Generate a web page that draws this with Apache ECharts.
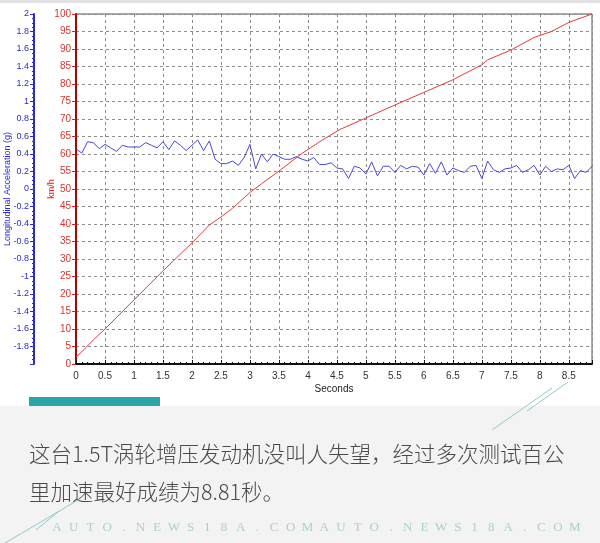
<!DOCTYPE html>
<html>
<head>
<meta charset="utf-8">
<script src="https://cdn.jsdelivr.net/npm/echarts@6/dist/echarts.min.js"></script>
<style>
html,body{margin:0;padding:0;background:#fff;}
#chart{width:600px;height:543px;}
</style>
</head>
<body>
<div id="chart"></div>
<script>
// ---- data ----
const accelTime = [0,0.1,0.2,0.3,0.4,0.5,0.6,0.7,0.8,0.9,1,1.1,1.2,1.3,1.4,1.5,1.6,1.7,1.8,1.9,2,2.1,2.2,2.3,2.4,2.5,2.6,2.7,2.8,2.9,3,3.1,3.2,3.3,3.4,3.5,3.6,3.7,3.8,3.9,4,4.1,4.2,4.3,4.4,4.5,4.6,4.7,4.8,4.9,5,5.1,5.2,5.3,5.4,5.5,5.6,5.7,5.8,5.9,6,6.1,6.2,6.3,6.4,6.5,6.6,6.7,6.8,6.9,7,7.1,7.2,7.3,7.4,7.5,7.6,7.7,7.8,7.9,8,8.1,8.2,8.3,8.4,8.5,8.6,8.7,8.8,8.9];
const accelG = [0.46,0.41,0.54,0.53,0.46,0.51,0.47,0.43,0.50,0.48,0.48,0.48,0.53,0.50,0.47,0.54,0.45,0.55,0.50,0.44,0.50,0.56,0.44,0.55,0.34,0.29,0.29,0.32,0.27,0.36,0.51,0.23,0.40,0.31,0.40,0.37,0.34,0.34,0.37,0.34,0.32,0.36,0.28,0.28,0.30,0.24,0.23,0.12,0.26,0.24,0.17,0.31,0.15,0.26,0.26,0.19,0.27,0.23,0.26,0.25,0.16,0.29,0.18,0.31,0.16,0.24,0.21,0.19,0.26,0.27,0.12,0.32,0.22,0.19,0.23,0.24,0.27,0.19,0.22,0.27,0.16,0.26,0.20,0.23,0.22,0.27,0.12,0.21,0.19,0.26];
const speedTime = [0,0.1,0.3,0.5,1.0,1.5,2.0,2.3,2.5,2.7,2.9,3.0,3.2,3.5,3.9,4.25,4.55,5.0,5.5,6.0,6.5,7.0,7.1,7.5,7.9,8.2,8.5,8.9];
const speedKmh = [2,3.5,6.9,10,18.3,26.6,34.6,39.7,42,44.5,47.5,49,51.5,55.1,60.2,64,67,70.3,74,77.6,81.2,85.5,86.9,89.7,93.3,95,97.6,100];
const xAxisName = 'Seconds';
const gAxisName = 'Longitudinal Acceleration (g)';
const speedAxisName = 'km/h';
const captionLines = ['这台1.5T涡轮增压发动机没叫人失望，经过多次测试百公', '里加速最好成绩为8.81秒。'];
const watermark = 'AUTO.NEWS18A.COMAUTO.NEWS18A.COM';

// ---- chart ----
const chart = echarts.init(document.getElementById('chart'), null, {renderer:'canvas'});
const blue = '#2a2ad6', red = '#d42020';
const sans = '"Liberation Sans", sans-serif';
const gridLine = {show:true, lineStyle:{type:[3,3], color:'#8c8c8c', width:1}};
const graphics = [
  {type:'rect', z:-10, shape:{x:0,y:0,width:600,height:3}, style:{fill:'#e2e2e2'}},
  {type:'rect', z:-10, shape:{x:0,y:406,width:600,height:137}, style:{fill:'#f3f3f3'}},
  {type:'rect', shape:{x:29,y:397,width:131,height:9}, style:{fill:'#2ba6a8'}},
  {type:'line', shape:{x1:492,y1:430,x2:552,y2:388}, style:{stroke:'#8fcaca', lineWidth:1}},
  {type:'line', shape:{x1:527,y1:411,x2:568,y2:382}, style:{stroke:'#8fcaca', lineWidth:1}},
  {type:'line', shape:{x1:0,y1:546,x2:78,y2:500}, style:{stroke:'#8fcaca', lineWidth:1}},
  {type:'line', shape:{x1:36,y1:530,x2:58,y2:512}, style:{stroke:'#8fcaca', lineWidth:1}}
];
captionLines.forEach((t,i)=>{
  graphics.push({type:'text', x:29, y:454 + i*38, style:{text:t, fill:'#4a4a4a', font:'300 21.5px "Noto Sans CJK SC"', verticalAlign:'middle', align:'left'}});
});
for (let i=0;i<watermark.length;i++){
  graphics.push({type:'text', x:57 + i*16.7, y:528, style:{text:watermark[i], fill:'#a8d0d0', font:'13px "Liberation Serif"', align:'center', verticalAlign:'middle'}});
}

chart.setOption({
  animation:false,
  backgroundColor:'#ffffff',
  grid:{left:76,right:8,top:14,bottom:179,containLabel:false,outerBoundsMode:'none',show:true,borderColor:'#555',borderWidth:1,backgroundColor:'transparent'},
  xAxis:{
    type:'value', min:0, max:8.9, interval:0.5,
    name:xAxisName, nameLocation:'middle', nameGap:20, nameMoveOverlap:false,
    nameTextStyle:{color:'#222', fontSize:10, fontFamily:sans},
    axisLine:{show:true, onZero:false, lineStyle:{color:'#111', width:2}},
    axisTick:{show:true, inside:true, length:4, lineStyle:{color:'#111'}},
    minorTick:{show:true, splitNumber:5, length:2, lineStyle:{color:'#111'}},
    axisLabel:{color:'#333', fontSize:10, fontFamily:sans, margin:7, showMaxLabel:false},
    splitLine:gridLine
  },
  yAxis:[
    {
      type:'value', min:-2, max:2, interval:0.2, position:'left', offset:42,
      name:gAxisName, nameLocation:'middle', nameGap:22, nameMoveOverlap:false,
      nameTextStyle:{color:blue, fontSize:9, fontFamily:sans},
      axisLine:{show:true, onZero:false, lineStyle:{color:blue, width:2}},
      axisTick:{show:true, length:4, lineStyle:{color:blue}},
      minorTick:{show:true, splitNumber:4, length:2, lineStyle:{color:blue}},
      axisLabel:{color:blue, fontSize:9, fontFamily:sans, margin:5, showMinLabel:false,
        formatter:v=>String(Math.round(v*10)/10)},
      splitLine:{show:false}
    },
    {
      type:'value', min:0, max:100, interval:5, position:'left', offset:0,
      name:speedAxisName, nameLocation:'middle', nameGap:20, nameMoveOverlap:false,
      nameTextStyle:{color:red, fontSize:9, fontFamily:sans},
      axisLine:{show:true, onZero:false, lineStyle:{color:'#b00000', width:2}},
      axisTick:{show:true, length:4, lineStyle:{color:red}},
      axisLabel:{color:'#e03030', fontSize:10, fontFamily:sans, margin:5},
      splitLine:gridLine
    }
  ],
  series:[
    {type:'line', yAxisIndex:0, symbol:'none', data:accelTime.map((t,i)=>[t,accelG[i]]),
      lineStyle:{color:'#4848d8', width:1}, z:3},
    {type:'line', yAxisIndex:1, symbol:'none', data:speedTime.map((t,i)=>[t,speedKmh[i]]),
      lineStyle:{color:'#e83a3a', width:1}, z:4}
  ],
  graphic:graphics
});
</script>
</body>
</html>
